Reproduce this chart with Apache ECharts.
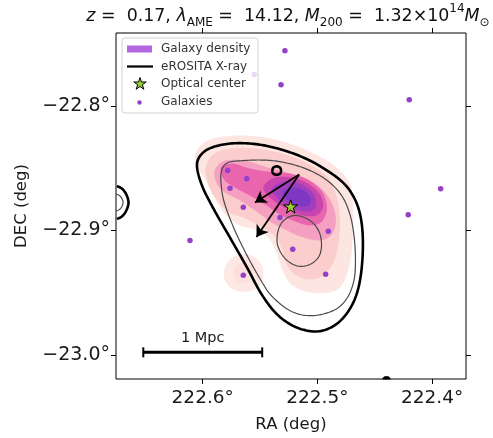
<!DOCTYPE html>
<html>
<head>
<meta charset="utf-8">
<script src="https://cdn.jsdelivr.net/npm/echarts@6/dist/echarts.min.js"></script>
<style>
  html, body { margin: 0; padding: 0; background: #ffffff; }
  #chart { width: 493px; height: 438px; }
</style>
</head>
<body>
<div id="chart"></div>
<script>
// Sky window and ticks (degrees)
const raRange = [222.3704, 222.6756];
const decRange = [-23.0192, -22.7416];
const raTicks = [222.4, 222.5, 222.6];
const decTicks = [-23.0, -22.9, -22.8];

// Member galaxies
const galaxyRA = [222.5283, 222.5550, 222.5317, 222.4199, 222.3925, 222.4208, 222.4905, 222.5215,
                  222.4928, 222.5782, 222.5616, 222.5762, 222.5646, 222.6111, 222.5646, 222.5326];
const galaxyDEC = [-22.7558, -22.7748, -22.7832, -22.7952, -22.8666, -22.8874, -22.9006, -22.9152,
                   -22.9352, -22.8520, -22.8586, -22.8662, -22.8814, -22.9080, -22.9360, -22.8896];

// Optical centre, offset arrows and 1 Mpc bar
const opticalCenter = [222.5233, -22.8808];
const arrowStart = [222.5159, -22.8552];
const arrowEnds = [[222.5544, -22.8776], [222.5531, -22.9052]];
const scaleBar = [222.6518, 222.5481, -22.9978]; // RA from, RA to, DEC

// Galaxy density levels, lowest to highest
const densityL1 = [[222.6067,-22.8392],[222.5989,-22.8296],[222.5832,-22.8248],[222.5588,-22.8240],[222.5326,-22.8280],
  [222.5065,-22.8368],[222.4855,-22.8480],[222.4716,-22.8624],[222.4690,-22.8800],[222.4690,-22.9008],[222.4707,-22.9216],
  [222.4751,-22.9376],[222.4821,-22.9472],[222.4960,-22.9504],[222.5117,-22.9488],[222.5239,-22.9424],[222.5309,-22.9312],
  [222.5361,-22.9168],[222.5431,-22.9056],[222.5544,-22.8992],[222.5675,-22.8960],[222.5797,-22.8880],[222.5902,-22.8736],
  [222.5980,-22.8592],[222.6050,-22.8488]];
const densityL1b = [[222.5814,-22.9328],[222.5762,-22.9232],[222.5657,-22.9192],[222.5544,-22.9216],[222.5474,-22.9312],
  [222.5492,-22.9424],[222.5588,-22.9488],[222.5719,-22.9480],[222.5797,-22.9416]];
const densityL2 = [[222.5971,-22.8480],[222.5884,-22.8376],[222.5675,-22.8336],[222.5413,-22.8360],[222.5152,-22.8432],
  [222.4934,-22.8552],[222.4838,-22.8712],[222.4803,-22.8912],[222.4821,-22.9136],[222.4873,-22.9280],[222.4977,-22.9376],
  [222.5091,-22.9392],[222.5195,-22.9352],[222.5265,-22.9280],[222.5309,-22.9152],[222.5361,-22.9056],[222.5483,-22.8976],
  [222.5631,-22.8904],[222.5780,-22.8848],[222.5902,-22.8720],[222.5963,-22.8592]];
const densityL2b = [[222.5727,-22.9328],[222.5692,-22.9272],[222.5623,-22.9264],[222.5562,-22.9304],[222.5570,-22.9384],
  [222.5631,-22.9424],[222.5701,-22.9400]];
const densityL3 = [[222.5893,-22.8512],[222.5806,-22.8440],[222.5631,-22.8440],[222.5457,-22.8488],[222.5239,-22.8544],
  [222.5021,-22.8624],[222.4890,-22.8752],[222.4838,-22.8912],[222.4882,-22.9040],[222.4995,-22.9080],[222.5152,-22.9048],
  [222.5283,-22.8992],[222.5413,-22.8928],[222.5544,-22.8840],[222.5675,-22.8760],[222.5806,-22.8696],[222.5884,-22.8608]];
const densityL4 = [[222.5841,-22.8496],[222.5736,-22.8464],[222.5588,-22.8504],[222.5431,-22.8528],[222.5239,-22.8544],
  [222.5082,-22.8592],[222.4960,-22.8688],[222.4916,-22.8816],[222.4960,-22.8928],[222.5065,-22.8960],[222.5195,-22.8928],
  [222.5326,-22.8872],[222.5457,-22.8792],[222.5588,-22.8720],[222.5719,-22.8656],[222.5814,-22.8592]];
const densityL5 = [[222.5466,-22.8640],[222.5370,-22.8576],[222.5222,-22.8576],[222.5082,-22.8624],[222.4977,-22.8712],
  [222.4951,-22.8816],[222.5012,-22.8880],[222.5134,-22.8880],[222.5256,-22.8832],[222.5370,-22.8768],[222.5448,-22.8704]];
const densityL6 = [[222.5396,-22.8664],[222.5309,-22.8616],[222.5178,-22.8616],[222.5065,-22.8672],[222.5012,-22.8752],
  [222.5030,-22.8832],[222.5126,-22.8848],[222.5239,-22.8808],[222.5344,-22.8744]];
const densityL7 = [[222.5300,-22.8688],[222.5230,-22.8656],[222.5134,-22.8672],[222.5065,-22.8728],[222.5065,-22.8792],
  [222.5134,-22.8808],[222.5222,-22.8776],[222.5283,-22.8736]];

// eROSITA X-ray contours
const xrayOuter = [[222.6050,-22.8472],[222.5997,-22.8376],[222.5884,-22.8324],[222.5710,-22.8300],[222.5501,-22.8312],
  [222.5283,-22.8360],[222.5082,-22.8432],[222.4908,-22.8524],[222.4759,-22.8632],[222.4664,-22.8768],[222.4616,-22.8928],
  [222.4603,-22.9128],[222.4620,-22.9352],[222.4664,-22.9528],[222.4742,-22.9664],[222.4847,-22.9760],[222.4977,-22.9808],
  [222.5108,-22.9800],[222.5239,-22.9752],[222.5370,-22.9656],[222.5492,-22.9504],[222.5614,-22.9296],[222.5753,-22.9072],
  [222.5902,-22.8832],[222.6006,-22.8640]];
const xrayInner = [[222.5832,-22.8512],[222.5780,-22.8456],[222.5657,-22.8440],[222.5457,-22.8436],[222.5283,-22.8456],
  [222.5082,-22.8512],[222.4908,-22.8604],[222.4786,-22.8724],[222.4716,-22.8872],[222.4681,-22.9040],[222.4668,-22.9232],
  [222.4681,-22.9400],[222.4742,-22.9544],[222.4855,-22.9640],[222.5047,-22.9684],[222.5230,-22.9648],[222.5396,-22.9528],
  [222.5492,-22.9400],[222.5614,-22.9200],[222.5727,-22.8984],[222.5814,-22.8768],[222.5841,-22.8608]];
const xrayCore = [[222.5187,-22.8880],[222.5065,-22.8920],[222.4986,-22.9008],[222.4964,-22.9120],[222.4991,-22.9216],
  [222.5073,-22.9276],[222.5178,-22.9284],[222.5283,-22.9224],[222.5348,-22.9112],[222.5339,-22.8992],[222.5283,-22.8912]];
const xrayKnot = [[222.5355,-22.8486],[222.5326,-22.8496],[222.5317,-22.8520],[222.5326,-22.8544],[222.5355,-22.8554],
  [222.5384,-22.8544],[222.5392,-22.8520],[222.5384,-22.8496]];
const xrayEdgeOuter = [[222.6791,-22.8640],[222.6695,-22.8672],[222.6647,-22.8776],[222.6695,-22.8880],[222.6791,-22.8912],
  [222.6887,-22.8880],[222.6930,-22.8776],[222.6887,-22.8672]];
const xrayEdgeInner = [[222.6782,-22.8704],[222.6721,-22.8724],[222.6695,-22.8776],[222.6721,-22.8828],[222.6782,-22.8848],
  [222.6843,-22.8828],[222.6869,-22.8776],[222.6843,-22.8724]];
const xraySouth = [[222.4398,-23.0172],[222.4371,-23.0180],[222.4363,-23.0204],[222.4371,-23.0228],[222.4398,-23.0236],
  [222.4424,-23.0228],[222.4433,-23.0204],[222.4424,-23.0180]];

const FONT = 'DejaVu Sans';
const GAL_COLOR = '#9440c8';
const STAR_COLOR = '#9acd32';
const STAR_PATH = 'path://M50,0 L61.2,34.59 L97.55,34.55 L68.12,55.89 L79.39,90.45 L50,69.05 L20.61,90.45 L31.88,55.89 L2.45,34.55 L38.8,34.59 Z';

// Closed Catmull-Rom curve through pixel vertices
function smoothLoop(pix, steps) {
  const n = pix.length, out = [];
  for (let i = 0; i < n; i++) {
    const p0 = pix[(i - 1 + n) % n], p1 = pix[i], p2 = pix[(i + 1) % n], p3 = pix[(i + 2) % n];
    for (let s = 0; s < steps; s++) {
      const t = s / steps, t2 = t * t, t3 = t2 * t;
      const f = function (k) {
        return 0.5 * (2 * p1[k] + (-p0[k] + p2[k]) * t + (2 * p0[k] - 5 * p1[k] + 4 * p2[k] - p3[k]) * t2 +
          (-p0[k] + 3 * p1[k] - 3 * p2[k] + p3[k]) * t3);
      };
      out.push([f(0), f(1)]);
    }
  }
  return out;
}

// Sutherland-Hodgman clip of a polygon to the plot rectangle
function clipPolygon(pts, r) {
  const edges = [
    function (p) { return p[0] >= r.x; }, function (p) { return p[0] <= r.x + r.width; },
    function (p) { return p[1] >= r.y; }, function (p) { return p[1] <= r.y + r.height; }
  ];
  const cut = [
    function (a, b) { const t = (r.x - a[0]) / (b[0] - a[0]); return [r.x, a[1] + t * (b[1] - a[1])]; },
    function (a, b) { const X = r.x + r.width, t = (X - a[0]) / (b[0] - a[0]); return [X, a[1] + t * (b[1] - a[1])]; },
    function (a, b) { const t = (r.y - a[1]) / (b[1] - a[1]); return [a[0] + t * (b[0] - a[0]), r.y]; },
    function (a, b) { const Y = r.y + r.height, t = (Y - a[1]) / (b[1] - a[1]); return [a[0] + t * (b[0] - a[0]), Y]; }
  ];
  let poly = pts;
  for (let e = 0; e < 4 && poly.length; e++) {
    const res = [];
    for (let i = 0; i < poly.length; i++) {
      const a = poly[(i - 1 + poly.length) % poly.length], b = poly[i];
      const ina = edges[e](a), inb = edges[e](b);
      if (inb) { if (!ina) res.push(cut[e](a, b)); res.push(b); }
      else if (ina) res.push(cut[e](a, b));
    }
    poly = res;
  }
  return poly;
}

// Pieces of a closed outline that lie inside the plot rectangle
function clipOutline(pts, r) {
  const inside = function (p) { return p[0] >= r.x && p[0] <= r.x + r.width && p[1] >= r.y && p[1] <= r.y + r.height; };
  const n = pts.length;
  let k = -1;
  for (let i = 0; i < n; i++) { if (!inside(pts[i])) { k = i; break; } }
  if (k < 0) return { closed: true, runs: [pts] };
  const runs = [];
  let cur = [];
  for (let j = 1; j <= n; j++) {
    const p = pts[(k + j) % n];
    if (inside(p)) cur.push(p);
    else { if (cur.length > 1) runs.push(cur); cur = []; }
  }
  if (cur.length > 1) runs.push(cur);
  return { closed: false, runs: runs };
}

// A closed, smoothed contour drawn from its vertex list, kept inside the plot frame
function contourSeries(pts, style, z) {
  return {
    type: 'custom',
    coordinateSystem: 'cartesian2d',
    silent: true,
    z: z,
    data: pts,
    renderItem: function (params, api) {
      if (params.dataIndex !== 0) return null;
      const cs = params.coordSys;
      const rect = { x: cs.x, y: cs.y, width: cs.width, height: cs.height };
      const curve = smoothLoop(pts.map(function (p) { return api.coord(p); }), 12);
      if (style.fill && style.fill !== 'none') {
        return { type: 'polygon', shape: { points: clipPolygon(curve, rect) }, style: style };
      }
      const parts = clipOutline(curve, rect);
      return {
        type: 'group',
        children: parts.runs.map(function (run) {
          return { type: parts.closed ? 'polygon' : 'polyline', shape: { points: run }, style: style };
        })
      };
    }
  };
}

function starPoints(cx, cy, R) {
  const pts = [];
  for (let i = 0; i < 10; i++) {
    const r = i % 2 === 0 ? R : R * 0.381;
    const a = -Math.PI / 2 + i * Math.PI / 5;
    pts.push([cx + r * Math.cos(a), cy + r * Math.sin(a)]);
  }
  return pts;
}

const degFmt = function (v) {
  return (v < 0 ? '\u2212' : '') + Math.abs(v).toFixed(1) + '\u00b0';
};

const fill = function (c) { return { fill: c, stroke: 'none' }; };
const thick = { fill: 'none', stroke: '#000', lineWidth: 2.6, lineJoin: 'round' };
const thin = { fill: 'none', stroke: '#4a4a4a', lineWidth: 1.2, lineJoin: 'round' };

const chart = echarts.init(document.getElementById('chart'), null, { renderer: 'canvas' });

chart.setOption({
  animation: false,
  backgroundColor: '#ffffff',
  title: {
    left: 288,
    top: 3,
    textAlign: 'center',
    padding: 0,
    text: '{i|z} =  0.17, {i|\u03bb}{sb|AME} =  14.12, {i|M}{sb|200} =  1.32\u00d710{sp|14}{i|M}{sb|\u2299}',
    textStyle: {
      fontFamily: FONT, fontSize: 17.4, fontWeight: 'normal', color: '#111', lineHeight: 26,
      rich: {
        i: { fontFamily: FONT, fontSize: 17.4, fontStyle: 'italic', color: '#111', lineHeight: 26 },
        sb: { fontFamily: FONT, fontSize: 12, color: '#111', lineHeight: 17, verticalAlign: 'bottom' },
        sp: { fontFamily: FONT, fontSize: 12, color: '#111', lineHeight: 14, verticalAlign: 'top' }
      }
    }
  },
  grid: { left: 116, right: 27, top: 33, bottom: 58, show: true, borderColor: '#000', borderWidth: 1, backgroundColor: 'transparent' },
  xAxis: [
    {
      type: 'value', min: raRange[0], max: raRange[1], inverse: true, position: 'bottom',
      name: 'RA (deg)', nameLocation: 'middle', nameGap: 37,
      nameTextStyle: { fontFamily: FONT, fontSize: 16.5, color: '#1a1a1a' },
      axisLine: { show: false }, splitLine: { show: false },
      axisTick: { show: true, inside: false, length: 5, customValues: raTicks, lineStyle: { color: '#000', width: 1 } },
      axisLabel: { customValues: raTicks, formatter: degFmt, fontFamily: FONT, fontSize: 18.5, color: '#1a1a1a', margin: 10 }
    },
    {
      type: 'value', min: raRange[0], max: raRange[1], inverse: true, position: 'top',
      axisLine: { show: false }, splitLine: { show: false },
      axisTick: { show: true, inside: false, length: 5, customValues: raTicks, lineStyle: { color: '#000', width: 1 } },
      axisLabel: { show: false }
    }
  ],
  yAxis: [
    {
      type: 'value', min: decRange[0], max: decRange[1], position: 'left',
      name: 'DEC (deg)', nameLocation: 'middle', nameGap: 86, nameRotate: 90,
      nameTextStyle: { fontFamily: FONT, fontSize: 16.5, color: '#1a1a1a' },
      axisLine: { show: false }, splitLine: { show: false },
      axisTick: { show: true, inside: false, length: 5, customValues: decTicks, lineStyle: { color: '#000', width: 1 } },
      axisLabel: { customValues: decTicks, formatter: degFmt, fontFamily: FONT, fontSize: 19, color: '#1a1a1a', margin: 6 }
    },
    {
      type: 'value', min: decRange[0], max: decRange[1], position: 'right',
      axisLine: { show: false }, splitLine: { show: false },
      axisTick: { show: true, inside: false, length: 5, customValues: decTicks, lineStyle: { color: '#000', width: 1 } },
      axisLabel: { show: false }
    }
  ],
  series: [
    contourSeries(densityL1, fill('#fde6e1'), 1),
    contourSeries(densityL1b, fill('#fde8e4'), 1),
    contourSeries(densityL2, fill('#fbcdcc'), 2),
    contourSeries(densityL2b, fill('#fcdedb'), 2),
    contourSeries(densityL3, fill('#f5a0c1'), 3),
    contourSeries(densityL4, fill('#e965ad'), 4),
    contourSeries(densityL5, fill('#c945ae'), 5),
    contourSeries(densityL6, fill('#9f3ebe'), 6),
    contourSeries(densityL7, fill('#7e38c4'), 7),

    contourSeries(xrayOuter, thick, 10),
    contourSeries(xrayInner, thin, 10),
    contourSeries(xrayCore, thin, 10),
    contourSeries(xrayKnot, thick, 10),
    contourSeries(xrayEdgeOuter, thick, 10),
    contourSeries(xrayEdgeInner, thin, 10),
    contourSeries(xraySouth, { fill: '#000', stroke: '#000', lineWidth: 1 }, 10),

    {
      type: 'scatter', z: 12, silent: true,
      data: galaxyRA.map(function (ra, i) { return [ra, galaxyDEC[i]]; }),
      symbol: 'circle', symbolSize: 5.5,
      itemStyle: { color: GAL_COLOR, opacity: 1 }
    },
    {
      type: 'scatter', z: 13, silent: true,
      data: [opticalCenter],
      symbol: STAR_PATH, symbolKeepAspect: true, symbolSize: 14,
      itemStyle: { color: STAR_COLOR, borderColor: '#000', borderWidth: 1, opacity: 1 }
    },
    {
      type: 'lines', coordinateSystem: 'cartesian2d', z: 14, silent: true,
      data: arrowEnds.map(function (e) { return { coords: [arrowStart, e] }; }),
      symbol: ['none', 'arrow'], symbolSize: 11,
      lineStyle: { color: '#000', width: 1.8, opacity: 1 }
    },
    {
      type: 'custom', coordinateSystem: 'cartesian2d', z: 14, silent: true,
      data: [scaleBar], encode: { x: [0, 1], y: 2 },
      renderItem: function (params, api) {
        const a = api.coord([api.value(0), api.value(2)]);
        const b = api.coord([api.value(1), api.value(2)]);
        return {
          type: 'group',
          children: [
            { type: 'line', shape: { x1: a[0], y1: a[1], x2: b[0], y2: b[1] }, style: { stroke: '#000', lineWidth: 3 } },
            { type: 'line', shape: { x1: a[0], y1: a[1] - 5, x2: a[0], y2: a[1] + 5 }, style: { stroke: '#000', lineWidth: 2 } },
            { type: 'line', shape: { x1: b[0], y1: b[1] - 5, x2: b[0], y2: b[1] + 5 }, style: { stroke: '#000', lineWidth: 2 } },
            { type: 'text', x: (a[0] + b[0]) / 2, y: a[1] - 14,
              style: { text: '1 Mpc', fontFamily: FONT, fontSize: 14.5, fill: '#1a1a1a', align: 'center', verticalAlign: 'middle' } }
          ]
        };
      }
    }
  ],
  graphic: [
    { type: 'rect', z: 100, shape: { x: 122, y: 38, width: 136, height: 75, r: 3 },
      style: { fill: 'rgba(255,255,255,0.8)', stroke: '#d0d0d0', lineWidth: 1 } },
    { type: 'rect', z: 101, shape: { x: 127, y: 45.5, width: 25, height: 7 }, style: { fill: '#b266e0' } },
    { type: 'line', z: 101, shape: { x1: 127, y1: 66.5, x2: 153, y2: 66.5 }, style: { stroke: '#000', lineWidth: 2.2 } },
    { type: 'polygon', z: 101, shape: { points: starPoints(140, 84, 6.5) },
      style: { fill: STAR_COLOR, stroke: '#000', lineWidth: 1 } },
    { type: 'circle', z: 101, shape: { cx: 139.5, cy: 102.5, r: 2.2 }, style: { fill: GAL_COLOR } },
    { type: 'text', z: 101, x: 161, y: 49, style: { text: 'Galaxy density', fontFamily: FONT, fontSize: 12, fill: '#333', verticalAlign: 'middle' } },
    { type: 'text', z: 101, x: 161, y: 66.5, style: { text: 'eROSITA X-ray', fontFamily: FONT, fontSize: 12, fill: '#333', verticalAlign: 'middle' } },
    { type: 'text', z: 101, x: 161, y: 84, style: { text: 'Optical center', fontFamily: FONT, fontSize: 12, fill: '#333', verticalAlign: 'middle' } },
    { type: 'text', z: 101, x: 161, y: 102, style: { text: 'Galaxies', fontFamily: FONT, fontSize: 12, fill: '#333', verticalAlign: 'middle' } }
  ]
});
</script>
</body>
</html>
